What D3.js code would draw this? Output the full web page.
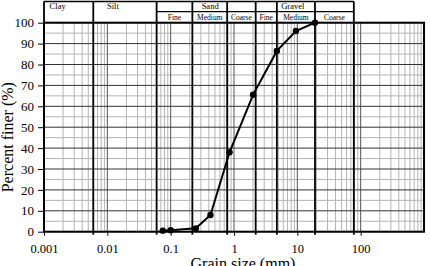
<!DOCTYPE html>
<html>
<head>
<meta charset="utf-8">
<script src="https://cdn.jsdelivr.net/npm/d3@7"></script>
<style>
  html, body { margin: 0; padding: 0; background: #fff; }
  #grading-chart { width: 430px; height: 266px; overflow: hidden; }
  text { font-family: "Liberation Serif", "DejaVu Serif", serif; }
</style>
</head>
<body>
<div id="grading-chart"></div>
<script>
// sieve results (mm, % passing)
const grainSize = [0.075, 0.1, 0.25, 0.425, 0.85, 2, 4.75, 9.5, 19];
const percentFiner = [0.5, 0.7, 1.6, 8, 38, 65.5, 86.5, 96, 100];

// axes
const xTickValues = [0.001, 0.01, 0.1, 1, 10, 100];
const xTickLabels = ["0.001", "0.01", "0.1", "1", "10", "100"];
const yTickValues = [0, 10, 20, 30, 40, 50, 60, 70, 80, 90, 100];

// soil classes shown in the header (limits in mm)
const soilClasses = ["Clay", "Silt", "Sand", "Gravel"];
const classLimits = [0.001, 0.006, 0.06, 2.2, 78];
const sandParts = ["Fine", "Medium", "Coarse"];
const sandLimits = [0.06, 0.22, 0.78, 2.2];
const gravelParts = ["Fine", "Medium", "Coarse"];
const gravelLimits = [2.2, 4.75, 19, 78];

document.addEventListener("DOMContentLoaded", () => {
    try {
        const width = 430, height = 266;
        const margin = { top: 22.7, right: 6, bottom: 34.3, left: 44 };
        const headTop = 1.5, headMid = 11.7;

        const svg = d3.select("#grading-chart")
            .append("svg")
            .attr("width", width)
            .attr("height", height);

        const x = d3.scaleLog()
            .domain([0.001, 1000])
            .range([margin.left, width - margin.right]);

        const y = d3.scaleLinear()
            .domain([0, 100])
            .range([height - margin.bottom, margin.top]);

        // minor verticals: 2..9 in each decade
        const minorX = [];
        for (let e = -3; e < 3; e++) {
            for (let m = 2; m <= 9; m++) minorX.push(m * Math.pow(10, e));
        }
        svg.append("g")
            .selectAll("line")
            .data(minorX)
            .join("line")
            .attr("x1", d => x(d)).attr("x2", d => x(d))
            .attr("y1", y(0)).attr("y2", y(100))
            .attr("stroke", "#b4b4b4")
            .attr("stroke-width", 1);

        // minor horizontals every 5%
        svg.append("g")
            .selectAll("line")
            .data(d3.range(5, 100, 10))
            .join("line")
            .attr("x1", x.range()[0]).attr("x2", x.range()[1])
            .attr("y1", d => y(d)).attr("y2", d => y(d))
            .attr("stroke", "#b4b4b4")
            .attr("stroke-width", 1);

        // decade lines
        svg.append("g")
            .selectAll("line")
            .data(xTickValues.slice(1))
            .join("line")
            .attr("x1", d => x(d)).attr("x2", d => x(d))
            .attr("y1", y(0)).attr("y2", y(100))
            .attr("stroke", "#555")
            .attr("stroke-width", 1);

        // major horizontals every 10%
        svg.append("g")
            .selectAll("line")
            .data(yTickValues)
            .join("line")
            .attr("x1", x.range()[0]).attr("x2", x.range()[1])
            .attr("y1", d => y(d)).attr("y2", d => y(d))
            .attr("stroke", "#333")
            .attr("stroke-width", 1);

        // class boundaries through the plot
        const bounds = Array.from(new Set([...classLimits.slice(1), ...sandLimits, ...gravelLimits]));
        svg.append("g")
            .selectAll("line")
            .data(bounds)
            .join("line")
            .attr("x1", d => x(d)).attr("x2", d => x(d))
            .attr("y1", headTop).attr("y2", y(0) + 3)
            .attr("stroke", "#000")
            .attr("stroke-width", 1.8);

        // header boxes
        const head = svg.append("g");
        head.append("line")
            .attr("x1", x(classLimits[0])).attr("x2", x(classLimits[4]))
            .attr("y1", headTop).attr("y2", headTop)
            .attr("stroke", "#000").attr("stroke-width", 1.5);
        head.append("line")
            .attr("x1", x(sandLimits[0])).attr("x2", x(gravelLimits[3]))
            .attr("y1", headMid).attr("y2", headMid)
            .attr("stroke", "#000").attr("stroke-width", 1.3);
        head.append("line")
            .attr("x1", x(classLimits[0])).attr("x2", x(classLimits[0]))
            .attr("y1", headTop).attr("y2", margin.top)
            .attr("stroke", "#000").attr("stroke-width", 1.8);

        const classDx = [-11, -12, 4, -12];
        head.selectAll("text.cls")
            .data(soilClasses)
            .join("text")
            .attr("class", "cls")
            .attr("x", (d, i) => (x(classLimits[i]) + x(classLimits[i + 1])) / 2 + classDx[i])
            .attr("y", 9.2)
            .attr("text-anchor", "middle")
            .attr("font-size", "8.5px")
            .attr("fill", "#000")
            .text(d => d);

        const subCells = sandParts.map((d, i) => ({ name: d, a: sandLimits[i], b: sandLimits[i + 1] }))
            .concat(gravelParts.map((d, i) => ({ name: d, a: gravelLimits[i], b: gravelLimits[i + 1] })));
        head.selectAll("text.sub")
            .data(subCells)
            .join("text")
            .attr("class", "sub")
            .attr("x", d => (x(d.a) + x(d.b)) / 2)
            .attr("y", 20.2)
            .attr("text-anchor", "middle")
            .attr("font-size", "7.5px")
            .attr("fill", "#000")
            .text(d => d.name);

        // axes
        const xAxis = d3.axisBottom(x)
            .tickValues(xTickValues)
            .tickFormat((d, i) => xTickLabels[i])
            .tickSize(4)
            .tickPadding(8);
        const gx = svg.append("g")
            .attr("transform", `translate(0,${y(0)})`)
            .call(xAxis);
        gx.select(".domain").remove();
        gx.selectAll("text").attr("font-size", "12.5px").attr("font-family", "Liberation Serif").attr("fill", "#000");

        const yAxis = d3.axisLeft(y)
            .tickValues(yTickValues)
            .tickSize(6)
            .tickPadding(4);
        const gy = svg.append("g")
            .attr("transform", `translate(${margin.left},0)`)
            .call(yAxis);
        gy.select(".domain").remove();
        gy.selectAll("text").attr("font-size", "13px").attr("font-family", "Liberation Serif").attr("fill", "#000");

        // plot frame
        svg.append("rect")
            .attr("x", x.range()[0]).attr("y", y(100))
            .attr("width", x.range()[1] - x.range()[0])
            .attr("height", y(0) - y(100))
            .attr("fill", "none")
            .attr("stroke", "#000")
            .attr("stroke-width", 2);

        // grading curve
        const pts = grainSize.map((d, i) => [d, percentFiner[i]]);
        svg.append("path")
            .datum(pts)
            .attr("fill", "none")
            .attr("stroke", "#000")
            .attr("stroke-width", 2)
            .attr("d", d3.line().x(d => x(d[0])).y(d => y(d[1])));
        svg.append("g")
            .selectAll("circle")
            .data(pts)
            .join("circle")
            .attr("cx", d => x(d[0]))
            .attr("cy", d => y(d[1]))
            .attr("r", 3.2)
            .attr("fill", "#000");

        // axis titles (the x title is cut by the bottom edge, as in the original)
        svg.append("text")
            .attr("x", (x.range()[0] + x.range()[1]) / 2 + 9)
            .attr("y", 268.5)
            .attr("text-anchor", "middle")
            .attr("font-size", "16px")
            .text("Grain size (mm)");
        svg.append("text")
            .attr("transform", `translate(13,${(y(0) + y(100)) / 2 + 10}) rotate(-90)`)
            .attr("text-anchor", "middle")
            .attr("font-size", "16px")
            .text("Percent finer (%)");
    } catch (error) {
        console.error("Error drawing the grading chart:", error);
    }
});
</script>
</body>
</html>
